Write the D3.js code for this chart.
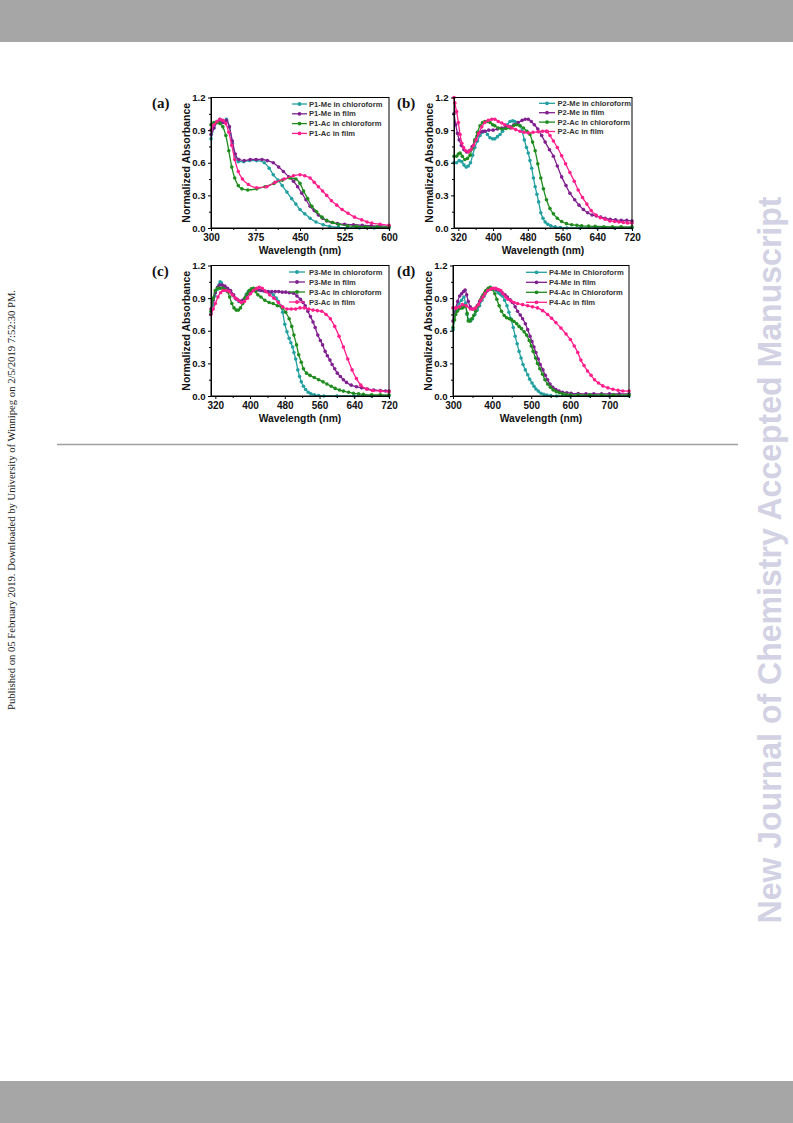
<!DOCTYPE html>
<html><head><meta charset="utf-8">
<script src="https://cdn.jsdelivr.net/npm/d3@7"></script>
<style>body{margin:0;background:#fff}svg{display:block}</style>
</head><body>
<svg id="c" width="793" height="1123"></svg>
<script>
// ---------------- DATA ----------------
const yTicks = [0, 0.3, 0.6, 0.9, 1.2];
const yMinor = [0.15, 0.45, 0.75, 1.05];
const xTicksA = [300, 375, 450, 525, 600];
const xTicksBC = [320, 400, 480, 560, 640, 720];
const xTicksD = [300, 400, 500, 600, 700];

const legendA = ["P1-Me in chloroform", "P1-Me in film", "P1-Ac in chloroform", "P1-Ac in film"];
const legendB = ["P2-Me in chloroform", "P2-Me in film", "P2-Ac in chloroform", "P2-Ac in film"];
const legendC = ["P3-Me in chloroform", "P3-Me in film", "P3-Ac in chloroform", "P3-Ac in film"];
const legendD = ["P4-Me in Chloroform", "P4-Me in film", "P4-Ac in Chloroform", "P4-Ac in film"];

// Panel (a)
const p1MeChl = [[300,0.82],[305,0.92],[310,0.98],[315,1.0],[320,0.97],[326,1.0],[331,0.93],[336,0.78],[341,0.65],[346,0.61],[355,0.61],[365,0.62],[377,0.62],[390,0.60],[398,0.55],[405,0.49],[413,0.44],[420,0.39],[428,0.33],[436,0.27],[443,0.22],[450,0.17],[458,0.13],[467,0.09],[477,0.055],[489,0.03],[500,0.015],[515,0.006],[530,0.002],[550,0],[575,0],[600,0]];
const p1MeFilm = [[300,0.86],[305,0.92],[310,0.97],[315,0.99],[320,0.97],[326,0.99],[331,0.93],[336,0.80],[341,0.68],[347,0.63],[356,0.62],[366,0.63],[376,0.63],[386,0.63],[395,0.62],[405,0.60],[414,0.56],[422,0.52],[431,0.47],[439,0.43],[446,0.38],[453,0.32],[460,0.26],[467,0.20],[474,0.16],[481,0.12],[488,0.09],[495,0.065],[504,0.05],[513,0.04],[525,0.035],[540,0.03],[555,0.025],[570,0.02],[585,0.02],[600,0.015]];
const p1AcChl = [[300,0.95],[305,0.97],[310,0.97],[315,0.96],[320,0.93],[325,0.85],[330,0.71],[335,0.56],[340,0.46],[346,0.39],[352,0.36],[362,0.35],[377,0.36],[391,0.38],[406,0.41],[420,0.44],[433,0.46],[443,0.45],[450,0.41],[456,0.34],[463,0.27],[470,0.20],[478,0.15],[487,0.10],[495,0.07],[505,0.05],[515,0.035],[530,0.02],[545,0.015],[560,0.012],[580,0.01],[600,0.01]];
const p1AcFilm = [[300,0.90],[305,0.95],[310,0.98],[315,1.0],[320,0.99],[325,0.96],[330,0.88],[335,0.76],[340,0.63],[346,0.52],[353,0.45],[363,0.40],[377,0.37],[394,0.38],[408,0.42],[423,0.45],[439,0.48],[450,0.49],[458,0.48],[467,0.46],[474,0.42],[481,0.38],[488,0.34],[495,0.30],[503,0.25],[512,0.21],[521,0.17],[531,0.135],[542,0.10],[554,0.075],[563,0.055],[571,0.045],[585,0.035],[600,0.025]];

// Panel (b)
const p2MeChl = [[310,0.60],[316,0.60],[322,0.62],[328,0.61],[333,0.58],[338,0.56],[343,0.57],[348,0.60],[353,0.67],[358,0.74],[364,0.80],[370,0.85],[376,0.88],[381,0.89],[387,0.86],[393,0.83],[399,0.82],[404,0.82],[410,0.84],[416,0.86],[422,0.89],[427,0.92],[433,0.95],[439,0.98],[445,0.985],[450,0.98],[456,0.97],[462,0.94],[467,0.89],[472,0.81],[477,0.74],[481,0.69],[485,0.62],[489,0.55],[493,0.46],[497,0.38],[501,0.31],[505,0.24],[510,0.14],[515,0.09],[520,0.055],[526,0.035],[533,0.02],[543,0.01],[555,0.004],[570,0],[600,0],[640,0],[680,0],[720,0]];
const p2MeFilm = [[310,1.05],[314,0.95],[318,0.87],[322,0.81],[327,0.76],[333,0.72],[339,0.70],[345,0.71],[352,0.75],[358,0.80],[364,0.85],[370,0.88],[376,0.89],[381,0.89],[390,0.90],[400,0.90],[410,0.91],[420,0.92],[430,0.93],[439,0.93],[448,0.95],[458,0.97],[467,0.99],[474,1.0],[481,1.0],[488,0.98],[495,0.95],[503,0.91],[512,0.85],[520,0.79],[530,0.72],[539,0.66],[548,0.57],[558,0.47],[568,0.39],[577,0.32],[588,0.26],[598,0.21],[608,0.17],[618,0.14],[628,0.12],[638,0.11],[648,0.10],[658,0.09],[670,0.08],[682,0.075],[695,0.07],[708,0.07],[720,0.065]];
const p2AcChl = [[310,0.66],[316,0.66],[320,0.68],[324,0.69],[329,0.66],[335,0.63],[341,0.64],[347,0.67],[352,0.73],[358,0.81],[364,0.88],[370,0.94],[376,0.97],[381,0.98],[387,0.98],[393,0.97],[399,0.95],[404,0.94],[412,0.92],[420,0.91],[430,0.915],[439,0.92],[447,0.94],[454,0.95],[462,0.94],[470,0.92],[478,0.89],[485,0.86],[491,0.79],[497,0.71],[503,0.59],[510,0.46],[516,0.36],[523,0.26],[531,0.18],[539,0.13],[548,0.09],[558,0.06],[569,0.04],[581,0.03],[593,0.025],[604,0.02],[620,0.017],[635,0.015],[655,0.012],[675,0.01],[695,0.01],[720,0.01]];
const p2AcFilm = [[310,1.2],[312,1.15],[316,1.07],[320,0.97],[324,0.86],[328,0.78],[332,0.74],[337,0.71],[343,0.70],[349,0.72],[355,0.76],[361,0.81],[367,0.87],[374,0.93],[381,0.97],[389,0.99],[397,1.0],[404,1.0],[412,0.98],[420,0.965],[427,0.95],[435,0.935],[443,0.92],[452,0.905],[462,0.89],[471,0.88],[481,0.875],[492,0.88],[504,0.885],[514,0.89],[523,0.89],[531,0.85],[539,0.80],[548,0.74],[558,0.665],[567,0.59],[577,0.51],[587,0.43],[596,0.35],[606,0.28],[616,0.22],[626,0.16],[637,0.12],[647,0.095],[658,0.08],[669,0.065],[680,0.06],[690,0.055],[700,0.05],[710,0.047],[720,0.045]];

// Panel (c)
const p3MeChl = [[310,0.76],[314,0.84],[319,0.92],[324,0.98],[328,1.02],[331,1.05],[334,1.04],[338,1.0],[344,0.97],[350,0.965],[356,0.95],[362,0.92],[368,0.89],[374,0.87],[380,0.87],[386,0.89],[391,0.93],[396,0.96],[402,0.975],[407,0.98],[415,0.98],[423,0.97],[431,0.965],[438,0.96],[446,0.95],[454,0.93],[460,0.90],[465,0.87],[470,0.83],[475,0.77],[480,0.66],[485,0.59],[490,0.53],[494,0.49],[498,0.45],[501,0.40],[505,0.34],[510,0.24],[514,0.18],[518,0.13],[523,0.09],[528,0.06],[534,0.035],[540,0.02],[548,0.01],[558,0.004],[570,0],[600,0],[640,0],[680,0],[720,0]];
const p3MeFilm = [[310,0.80],[315,0.88],[320,0.95],[325,1.0],[330,1.02],[336,1.02],[342,1.01],[348,0.99],[355,0.97],[362,0.93],[370,0.89],[377,0.87],[383,0.88],[390,0.91],[396,0.94],[403,0.96],[410,0.97],[418,0.975],[426,0.97],[434,0.965],[442,0.96],[450,0.96],[458,0.96],[466,0.96],[474,0.955],[482,0.955],[490,0.95],[500,0.945],[508,0.92],[516,0.89],[522,0.86],[527,0.83],[533,0.78],[539,0.73],[545,0.68],[550,0.63],[556,0.56],[562,0.51],[567,0.47],[573,0.41],[578,0.37],[584,0.33],[589,0.29],[595,0.25],[601,0.21],[608,0.18],[615,0.15],[622,0.125],[633,0.10],[645,0.085],[657,0.075],[670,0.065],[685,0.055],[700,0.05],[712,0.046],[720,0.045]];
const p3AcChl = [[310,0.78],[315,0.90],[320,0.97],[325,0.99],[331,0.99],[337,0.99],[343,0.98],[348,0.96],[353,0.91],[358,0.85],[363,0.81],[368,0.79],[373,0.79],[378,0.81],[383,0.85],[388,0.90],[393,0.94],[398,0.97],[403,0.985],[408,0.99],[413,0.96],[418,0.93],[425,0.91],[434,0.88],[444,0.86],[453,0.85],[463,0.83],[474,0.81],[482,0.77],[490,0.71],[496,0.64],[501,0.56],[507,0.47],[512,0.38],[518,0.31],[523,0.25],[530,0.21],[538,0.19],[548,0.17],[558,0.15],[568,0.13],[577,0.11],[587,0.09],[596,0.07],[606,0.055],[615,0.045],[627,0.035],[638,0.025],[650,0.02],[661,0.015],[680,0.01],[700,0.01],[720,0.01]];
const p3AcFilm = [[310,0.75],[315,0.80],[320,0.85],[326,0.91],[332,0.95],[338,0.97],[345,0.97],[352,0.96],[359,0.93],[366,0.90],[373,0.88],[380,0.86],[387,0.87],[394,0.90],[401,0.94],[408,0.97],[415,0.99],[421,1.0],[428,0.99],[436,0.96],[445,0.93],[455,0.90],[465,0.86],[475,0.82],[485,0.80],[495,0.80],[505,0.80],[515,0.81],[525,0.81],[535,0.80],[545,0.79],[555,0.785],[565,0.78],[575,0.75],[585,0.71],[595,0.64],[605,0.55],[615,0.45],[625,0.34],[635,0.24],[645,0.16],[655,0.10],[668,0.065],[682,0.05],[700,0.045],[720,0.04]];

// Panel (d)
const p4MeChl = [[300,0.61],[307,0.78],[315,0.85],[322,0.88],[328,0.91],[332,0.85],[336,0.75],[340,0.70],[345,0.69],[350,0.71],[356,0.75],[362,0.79],[368,0.83],[374,0.88],[380,0.92],[386,0.96],[392,0.985],[399,0.99],[405,0.985],[411,0.97],[416,0.95],[421,0.935],[426,0.92],[432,0.88],[438,0.83],[443,0.77],[448,0.71],[454,0.63],[459,0.55],[464,0.48],[469,0.41],[474,0.35],[479,0.29],[485,0.24],[491,0.195],[496,0.155],[502,0.12],[507,0.09],[512,0.065],[518,0.045],[525,0.025],[532,0.015],[540,0.008],[550,0.003],[565,0],[600,0],[650,0],[700,0],[750,0]];
const p4MeFilm = [[300,0.69],[307,0.81],[312,0.87],[317,0.92],[322,0.94],[327,0.96],[331,0.975],[335,0.93],[339,0.87],[344,0.82],[350,0.80],[356,0.80],[362,0.83],[368,0.87],[374,0.91],[381,0.95],[388,0.975],[395,0.985],[401,0.985],[408,0.985],[414,0.98],[420,0.97],[426,0.95],[433,0.93],[439,0.91],[446,0.885],[452,0.86],[459,0.82],[465,0.78],[472,0.745],[478,0.71],[485,0.665],[491,0.61],[497,0.55],[502,0.50],[507,0.45],[512,0.40],[518,0.34],[523,0.29],[530,0.24],[536,0.19],[542,0.15],[548,0.11],[555,0.08],[563,0.06],[571,0.045],[580,0.035],[591,0.03],[602,0.025],[620,0.022],[640,0.02],[660,0.02],[680,0.02],[700,0.02],[725,0.02],[750,0.02]];
const p4AcChl = [[300,0.63],[304,0.70],[307,0.75],[311,0.78],[315,0.80],[320,0.81],[324,0.81],[328,0.82],[332,0.83],[336,0.76],[339,0.69],[343,0.69],[348,0.71],[353,0.74],[358,0.78],[364,0.83],[371,0.89],[377,0.93],[384,0.97],[390,0.99],[395,1.0],[401,0.98],[407,0.94],[412,0.89],[418,0.83],[424,0.78],[431,0.74],[437,0.72],[444,0.71],[450,0.70],[456,0.685],[463,0.665],[469,0.64],[475,0.62],[482,0.59],[488,0.56],[495,0.51],[500,0.46],[505,0.41],[511,0.35],[516,0.30],[522,0.25],[529,0.20],[535,0.15],[542,0.11],[549,0.08],[556,0.055],[564,0.04],[572,0.03],[580,0.02],[589,0.015],[600,0.012],[620,0.01],[650,0.01],[680,0.01],[710,0.01],[750,0.01]];
const p4AcFilm = [[300,0.81],[308,0.81],[316,0.82],[324,0.84],[334,0.83],[345,0.80],[352,0.80],[358,0.81],[365,0.84],[371,0.88],[377,0.91],[382,0.94],[389,0.97],[397,0.985],[403,0.99],[409,0.99],[416,0.98],[422,0.97],[428,0.94],[435,0.91],[441,0.89],[448,0.875],[456,0.86],[465,0.85],[478,0.84],[491,0.83],[503,0.82],[516,0.81],[529,0.785],[542,0.75],[552,0.715],[563,0.675],[576,0.625],[589,0.57],[600,0.52],[610,0.46],[619,0.40],[627,0.33],[635,0.28],[644,0.23],[653,0.19],[662,0.15],[672,0.12],[683,0.093],[696,0.075],[709,0.062],[722,0.052],[734,0.046],[750,0.045]];

// ---------------- DRAWING ----------------
const colors = ["#23a0a0", "#80208f", "#1f8c1f", "#ff1f8c"];
const W = 793, H = 1123;
const svg = d3.select("#c");
const SANS = "'Liberation Sans', Arial, sans-serif";
const SERIF = "'Liberation Serif', 'Times New Roman', serif";

svg.append("rect").attr("x",0).attr("y",0).attr("width",W).attr("height",42).attr("fill","#a6a6a6");
svg.append("rect").attr("x",0).attr("y",1081).attr("width",W).attr("height",42).attr("fill","#a6a6a6");
svg.append("line").attr("x1",57).attr("x2",738).attr("y1",444.5).attr("y2",444.5)
  .attr("stroke","#a0a0a0").attr("stroke-width",1.3);

svg.append("text")
  .attr("transform","translate(14.5,500) rotate(-90)")
  .attr("text-anchor","middle")
  .attr("font-family",SERIF).attr("font-size",9.5).attr("fill","#222")
  .attr("textLength",420).attr("lengthAdjust","spacingAndGlyphs")
  .text("Published on 05 February 2019. Downloaded by University of Winnipeg on 2/5/2019 7:52:30 PM.");

svg.append("text")
  .attr("transform","translate(781,560) rotate(-90)")
  .attr("text-anchor","middle")
  .attr("font-family",SANS).attr("font-weight","bold").attr("font-size",33).attr("fill","#d2d2e4")
  .attr("textLength",727).attr("lengthAdjust","spacingAndGlyphs")
  .text("New Journal of Chemistry Accepted Manuscript");

function midpoints(arr){ const m=[]; for(let i=0;i<arr.length-1;i++) m.push((arr[i]+arr[i+1])/2); return m; }

function drawPanel(cfg){
  const g = svg.append("g");
  const x = d3.scaleLinear().domain(cfg.xDomain).range([cfg.left, cfg.left+cfg.w]);
  const y = d3.scaleLinear().domain([0,1.2]).range([cfg.top+cfg.h, cfg.top]);
  const bottom = cfg.top+cfg.h;

  // series
  const line = d3.line().x(d=>x(d[0])).y(d=>y(d[1])).curve(d3.curveMonotoneX);
  cfg.series.forEach((s,i)=>{
    g.append("path").datum(s).attr("d",line).attr("fill","none")
      .attr("stroke",colors[i]).attr("stroke-width",1.3);
    g.append("g").selectAll("circle").data(s).join("circle")
      .attr("cx",d=>x(d[0])).attr("cy",d=>y(d[1])).attr("r",1.8).attr("fill",colors[i]);
  });

  // frame
  g.append("rect").attr("x",cfg.left).attr("y",cfg.top).attr("width",cfg.w).attr("height",cfg.h)
    .attr("fill","none").attr("stroke","#000").attr("stroke-width",1);

  // axes
  const xa = g.append("g").attr("transform",`translate(0,${bottom})`)
    .call(d3.axisBottom(x).tickValues(cfg.xTicks).tickSize(3).tickSizeOuter(0).tickPadding(2.5).tickFormat(d3.format("d")));
  g.append("g").attr("transform",`translate(0,${bottom})`)
    .call(d3.axisBottom(x).tickValues(midpoints(cfg.xTicks).concat(cfg.xMinorExtra||[])).tickSize(2).tickSizeOuter(0).tickFormat(""))
    .select(".domain").remove();
  const ya = g.append("g").attr("transform",`translate(${cfg.left},0)`)
    .call(d3.axisLeft(y).tickValues(yTicks).tickSize(3).tickSizeOuter(0).tickPadding(2.5).tickFormat(d3.format(".1f")));
  g.append("g").attr("transform",`translate(${cfg.left},0)`)
    .call(d3.axisLeft(y).tickValues(yMinor).tickSize(2).tickSizeOuter(0).tickFormat(""))
    .select(".domain").remove();
  g.selectAll(".tick line").attr("stroke","#000");
  g.selectAll(".domain").attr("stroke","#000");
  xa.selectAll("text").attr("font-family",SANS).attr("font-weight","bold").attr("font-size",10).attr("fill","#111");
  ya.selectAll("text").attr("font-family",SANS).attr("font-weight","bold").attr("font-size",9.6).attr("fill","#111");

  // axis titles
  g.append("text").attr("x",cfg.left+cfg.w/2).attr("y",bottom+26).attr("text-anchor","middle")
    .attr("font-family",SANS).attr("font-weight","bold").attr("font-size",10.3).attr("fill","#111")
    .text("Wavelength (nm)");
  g.append("text").attr("transform",`translate(${cfg.left-21.5},${cfg.top+cfg.h/2}) rotate(-90)`)
    .attr("text-anchor","middle")
    .attr("font-family",SANS).attr("font-weight","bold").attr("font-size",10.5).attr("fill","#111")
    .text("Normalized Absorbance");

  // panel label
  g.append("text").attr("x",cfg.labelX).attr("y",cfg.top+10.5)
    .attr("font-family",SERIF).attr("font-weight","bold").attr("font-size",15).attr("fill","#111")
    .text(cfg.label);

  // legend
  cfg.legend.forEach((t,i)=>{
    const ly = cfg.top + cfg.legY + i*cfg.legDy;
    g.append("line").attr("x1",cfg.left+cfg.legX1).attr("x2",cfg.left+cfg.legX2).attr("y1",ly).attr("y2",ly)
      .attr("stroke",colors[i]).attr("stroke-width",1.3);
    g.append("circle").attr("cx",cfg.left+(cfg.legX1+cfg.legX2)/2).attr("cy",ly).attr("r",1.9).attr("fill",colors[i]);
    g.append("text").attr("x",cfg.left+cfg.legTX).attr("y",ly+2.6)
      .attr("font-family",SANS).attr("font-weight","bold").attr("font-size",7.6).attr("fill","#333")
      .text(t);
  });
}

drawPanel({label:"(a)", labelX:152, left:211, top:97.5, w:178, h:130.5, xDomain:[300,600], xTicks:xTicksA,
  series:[p1MeChl,p1MeFilm,p1AcChl,p1AcFilm], legend:legendA,
  legX1:81, legX2:96, legTX:98, legY:6.5, legDy:9.8});
drawPanel({label:"(b)", labelX:397, left:454, top:97.5, w:178, h:130.5, xDomain:[310,720], xTicks:xTicksBC,
  series:[p2MeChl,p2MeFilm,p2AcChl,p2AcFilm], legend:legendB,
  legX1:85, legX2:101, legTX:103.5, legY:5.8, legDy:9.4});
drawPanel({label:"(c)", labelX:152, left:211, top:265.5, w:178, h:130.5, xDomain:[310,720], xTicks:xTicksBC,
  series:[p3MeChl,p3MeFilm,p3AcChl,p3AcFilm], legend:legendC,
  legX1:78, legX2:94, legTX:98, legY:6.5, legDy:10});
drawPanel({label:"(d)", labelX:397, left:453, top:265.5, w:176, h:130.5, xDomain:[300,750], xTicks:xTicksD,
  series:[p4MeChl,p4MeFilm,p4AcChl,p4AcFilm], legend:legendD, xMinorExtra:[750],
  legX1:73, legX2:94, legTX:96, legY:6.8, legDy:10});
</script>
</body></html>
